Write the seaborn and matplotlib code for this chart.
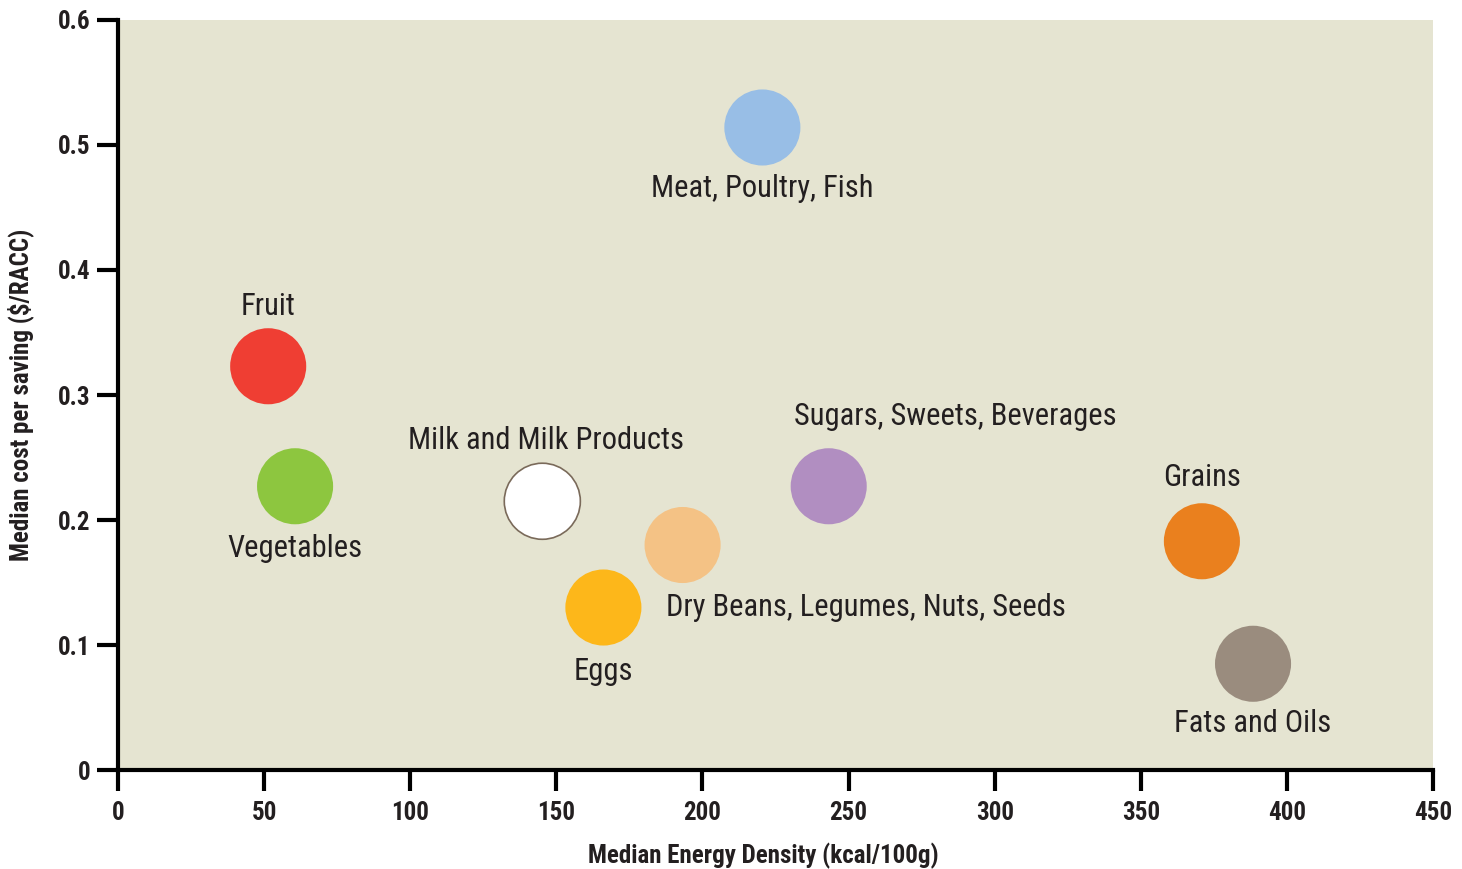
import matplotlib
matplotlib.use("Agg")
import matplotlib.pyplot as plt
import matplotlib.ticker as mticker
from matplotlib import font_manager
import pandas as pd
import seaborn as sns

# %% DATA ────────────────────────────────────────────────────────────────
groups = ["Meat, Poultry, Fish", "Fruit", "Vegetables", "Milk and Milk Products",
          "Eggs", "Dry Beans, Legumes, Nuts, Seeds", "Sugars, Sweets, Beverages",
          "Grains", "Fats and Oils"]
energy = [220.5, 51.4, 60.6, 145.2, 166.1, 193.2, 243.2, 370.9, 388.4]
cost = [0.514, 0.323, 0.227, 0.215, 0.130, 0.180, 0.227, 0.183, 0.085]
colors = ["#98BEE6", "#EF3E33", "#8DC63F", "#FFFFFF", "#FDB71A",
          "#F4C285", "#B18EC1", "#EA801E", "#9A8C7E"]
# label offset (points) and alignment for each group
label_pos = [(0, -44, "center"), (0, 43, "center"), (0, -45, "center"),
             (3, 44, "center"), (0, -46, "center"), (-12, -45, "left"),
             (-25, 50, "left"), (0, 46, "center"), (0, -43, "center")]
xticks = [0, 50, 100, 150, 200, 250, 300, 350, 400, 450]
yticks = [0, 0.1, 0.2, 0.3, 0.4, 0.5, 0.6]

df = pd.DataFrame({"group": groups, "energy": energy, "cost": cost})

# %% FONT PICK ───────────────────────────────────────────────────────────
# the original uses a condensed grotesque; take the narrowest one we have
names = {f.name for f in font_manager.fontManager.ttflist}
condensed = {f.name for f in font_manager.fontManager.ttflist
             if "condensed" in str(f.stretch).lower()}
main_font, stretch = "Roboto", "normal"
for cand in ["Roboto Condensed", "Liberation Sans Narrow", "Open Sans Condensed"]:
    if cand in names:
        main_font = cand
        break
else:
    if "DejaVu Sans" in condensed:
        main_font, stretch = "DejaVu Sans", "condensed"
narrow = main_font != "Roboto"

# %% STYLE ───────────────────────────────────────────────────────────────
sns.set_style("ticks")
FONT = [main_font, "DejaVu Sans"]
plt.rcParams["font.family"] = FONT
plt.rcParams["font.stretch"] = stretch
TXT = "#231F20"
BG = "#E5E4D1"
LBL = 22 if narrow else 19
TCK = 18 if narrow else 15

fig = plt.figure(figsize=(14.62, 8.69), dpi=100)
ax = fig.add_axes([0.0807, 0.1139, 0.8995, 0.8631])
ax.set_facecolor(BG)

sns.scatterplot(data=df, x="energy", y="cost", hue="group",
                palette=dict(zip(groups, colors)), s=3000,
                linewidth=0, legend=False, ax=ax, zorder=3)
pts = ax.collections[0]
pts.set_edgecolors(["#7A6A5A" if g.startswith("Milk") else "none" for g in groups])
pts.set_linewidths([1.2 if g.startswith("Milk") else 0 for g in groups])
pts.set_alpha(1)

for g, x, y, (dx, dy, ha) in zip(groups, energy, cost, label_pos):
    ax.annotate(g, (x, y), xytext=(dx, dy), textcoords="offset points",
                ha=ha, va="center", fontsize=LBL,
                color=TXT, family=FONT, fontstretch=stretch)

ax.set_xlim(0, 450)
ax.set_ylim(0, 0.6)
ax.set_xticks(xticks)
ax.set_yticks(yticks)
ax.yaxis.set_major_formatter(mticker.FuncFormatter(lambda v, p: "0" if v == 0 else f"{v:.1f}"))
ax.xaxis.set_major_formatter(mticker.FuncFormatter(lambda v, p: f"{v:.0f}"))
for lab in ax.get_xticklabels() + ax.get_yticklabels():
    lab.set_fontweight("bold")
    lab.set_fontsize(TCK)
    lab.set_color(TXT)
ax.tick_params(axis="both", length=15, width=3, color="black")
ax.tick_params(axis="x", pad=7)
ax.tick_params(axis="y", pad=5)

sns.despine(ax=ax)
for side in ["left", "bottom"]:
    ax.spines[side].set_linewidth(3)
    ax.spines[side].set_color("black")

ax.set_xlabel("Median Energy Density (kcal/100g)", fontsize=TCK, fontweight="bold",
              color=TXT, labelpad=13)
ax.xaxis.label.set_x(0.4905)
ax.set_ylabel("Median cost per saving ($/RACC)", fontsize=TCK, fontweight="bold",
              color=TXT, labelpad=17)

fig.savefig("out.png", dpi=100)
